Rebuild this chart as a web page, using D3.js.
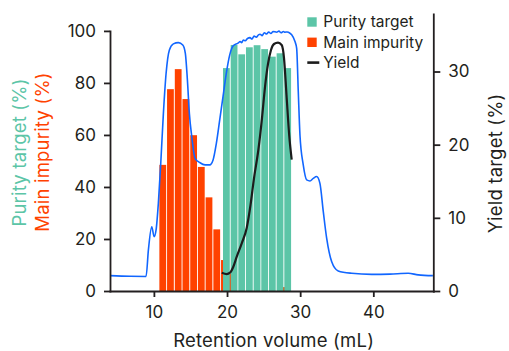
<!DOCTYPE html>
<html>
<head>
<meta charset="utf-8">
<script src="https://cdn.jsdelivr.net/npm/d3@7"></script>
<style>
  body { margin: 0; background: #fff; }
  svg text { font-family: Inter, 'Liberation Sans', sans-serif; fill: #231f20; }
  .axis path, .axis line { stroke: #231f20; stroke-width: 1.8; }
  .axis text { font-size: 17px; }
  .title { font-size: 18.5px; letter-spacing: 0.2px; }
  .legend text { font-size: 15.5px; }
</style>
</head>
<body>
<div id="chart"></div>
<script>
// Fraction start volumes (mL) and analysed content (%)
const fractionWidth = 1.05;
const impurityStart = [10.75, 11.8, 12.86, 13.91, 14.97, 16.02, 17.07, 18.13, 19.18, 20.24, 21.29, 22.34, 23.4, 24.45, 25.51, 26.56, 27.61];
const impurityPct = [48.5, 77.6, 85.3, 73.8, 59.9, 47.7, 36.0, 23.7, 11.9, 6.7, 0, 0, 0, 0, 0, 0, 1.5];
const purityStart = [19.45, 20.5, 21.54, 22.59, 23.64, 24.68, 25.73, 26.78, 27.83];
const purityPct = [85.7, 94.6, 91.0, 93.7, 94.5, 93.0, 90.1, 91.4, 85.7];

// Cumulative yield (right axis)
const yieldVol = [19.28, 19.96, 20.41, 20.86, 21.33, 22.01, 22.69, 23.21, 23.69, 24.28, 24.78, 25.19, 25.6, 26.01, 26.42, 26.97, 27.47, 27.79, 28.13, 28.51, 28.84];
const yieldPct = [2.5, 2.32, 2.5, 3.32, 4.69, 6.52, 8.61, 11.75, 15.44, 19.27, 23.64, 27.88, 31.02, 32.94, 33.76, 33.96, 33.62, 31.84, 26.79, 21.18, 17.97];

// Chromatogram trace, drawn against the left scale
const traceVol = [4.0, 6.75, 8.93, 9.25, 9.71, 10.03, 10.3, 10.61, 10.94, 11.3, 11.67, 12.12, 12.66, 13.35, 13.95, 14.3, 14.58, 14.85, 15.18, 15.63, 16.31, 16.99, 17.64, 18.09, 18.54, 19.0, 19.45, 19.9, 20.37, 20.82, 21.5, 21.8, 22.0, 22.23, 22.5, 22.8, 23.14, 23.4, 23.7, 24.0, 24.3, 24.51, 24.8, 25.1, 25.4, 25.7, 26.0, 26.3, 26.79, 27.1, 27.4, 27.7, 27.92, 28.2, 28.61, 28.84, 29.29, 29.52, 29.74, 29.97, 30.42, 30.89, 31.34, 31.79, 32.25, 32.7, 33.16, 33.62, 34.3, 35.2, 37.04, 39.77, 42.27, 44.77, 46.13, 48.14];
const traceSignal = [5.9, 5.65, 5.6, 15.8, 24.7, 20.9, 23.5, 33.7, 49.1, 68.3, 83.7, 92.7, 95.0, 95.5, 94.6, 91.4, 81.2, 68.3, 59.3, 51.0, 49.3, 48.5, 48.5, 50.4, 56.8, 65.8, 74.7, 83.7, 90.8, 94.2, 95.3, 95.9, 95.5, 96.5, 96.2, 97.1, 97.4, 96.9, 98.0, 97.6, 98.5, 98.7, 98.2, 99.3, 98.8, 99.6, 99.0, 99.8, 99.5, 99.9, 99.3, 99.8, 99.5, 99.6, 99.1, 98.5, 95.9, 93.3, 76.7, 60.0, 48.5, 42.7, 42.3, 43.3, 44.0, 41.4, 30.5, 20.3, 11.3, 7.7, 6.8, 6.4, 6.5, 6.8, 6.2, 5.9];

const xTicks = [10, 20, 30, 40];
const leftTicks = [0, 20, 40, 60, 80, 100];
const rightTicks = [0, 10, 20, 30];

const colors = { purity: '#5cc5a7', impurity: '#ff4200', trace: '#1166ff', yield: '#1c1c1c' };

const config = {
  containerWidth: 509,
  containerHeight: 351,
  margin: { top: 14, right: 75.7, bottom: 60, left: 110 }
};
const width = config.containerWidth - config.margin.left - config.margin.right;
const height = config.containerHeight - config.margin.top - config.margin.bottom;

const svg = d3.select('#chart').append('svg')
    .attr('width', config.containerWidth)
    .attr('height', config.containerHeight);

const chart = svg.append('g')
    .attr('transform', `translate(${config.margin.left},${config.margin.top})`);

// Scales
const x = d3.scaleLinear().domain([4, 48.2]).range([0, width]);
const yLeft = d3.scaleLinear().domain([0, 106.5]).range([height, 0]);
const yRight = d3.scaleLinear().domain([0, 37.86]).range([height, 0]);

// Bars: impurity first, purity on top
const impurity = impurityStart.map((v, i) => ({ x0: v, value: impurityPct[i] }));
const purity = purityStart.map((v, i) => ({ x0: v, value: purityPct[i] }));

chart.selectAll('.bar-impurity')
    .data(impurity)
  .join('rect')
    .attr('class', 'bar-impurity')
    .attr('x', d => x(d.x0))
    .attr('width', d => x(d.x0 + fractionWidth) - x(d.x0) - 0.9)
    .attr('y', d => yLeft(d.value))
    .attr('height', d => yLeft(0) - yLeft(d.value))
    .attr('fill', colors.impurity);

chart.selectAll('.bar-purity')
    .data(purity)
  .join('rect')
    .attr('class', 'bar-purity')
    .attr('x', d => x(d.x0))
    .attr('width', d => x(d.x0 + fractionWidth) - x(d.x0) - 0.9)
    .attr('y', d => yLeft(d.value))
    .attr('height', d => yLeft(0) - yLeft(d.value))
    .attr('fill', colors.purity);

// Chromatogram trace
const trace = d3.line()
    .x((d, i) => x(traceVol[i]))
    .y(d => yLeft(d))
    .curve(d3.curveMonotoneX);

chart.append('path')
    .attr('d', trace(traceSignal))
    .attr('fill', 'none')
    .attr('stroke', colors.trace)
    .attr('stroke-width', 1.6);

// Yield line
const yieldLine = d3.line()
    .x((d, i) => x(yieldVol[i]))
    .y(d => yRight(d))
    .curve(d3.curveMonotoneX);

chart.append('path')
    .attr('d', yieldLine(yieldPct))
    .attr('fill', 'none')
    .attr('stroke', colors.yield)
    .attr('stroke-width', 2.2);

// Axes
chart.append('g')
    .attr('class', 'axis')
    .attr('transform', `translate(0,${height})`)
    .call(d3.axisBottom(x).tickValues(xTicks).tickSize(6).tickPadding(9).tickSizeOuter(0));

const leftScale = yLeft.copy().domain([0, 100]).range([yLeft(0), yLeft(100)]);
chart.append('g')
    .attr('class', 'axis')
    .call(d3.axisLeft(leftScale).tickValues(leftTicks).tickSize(6).tickPadding(8).tickSizeOuter(0));

chart.append('g')
    .attr('class', 'axis')
    .attr('transform', `translate(${width},0)`)
    .call(d3.axisRight(yRight).tickValues(rightTicks).tickSize(7).tickPadding(8).tickSizeOuter(0));

chart.selectAll('.axis .domain').attr('stroke-linecap', 'square');

// Axis titles
svg.append('text')
    .attr('class', 'title')
    .attr('x', config.margin.left + width / 2 + 2)
    .attr('y', 346.5)
    .attr('text-anchor', 'middle')
    .text('Retention volume (mL)');

svg.append('text')
    .attr('class', 'title')
    .attr('transform', 'translate(25.5,152.5) rotate(-90)')
    .attr('text-anchor', 'middle')
    .style('fill', colors.purity)
    .text('Purity target (%)');

svg.append('text')
    .attr('class', 'title')
    .attr('transform', 'translate(48.5,152) rotate(-90)')
    .attr('text-anchor', 'middle')
    .style('fill', colors.impurity)
    .text('Main impurity (%)');

svg.append('text')
    .attr('class', 'title')
    .attr('transform', 'translate(502,163.3) rotate(-90)')
    .attr('text-anchor', 'middle')
    .text('Yield target (%)');

// Legend
const legendItems = [
  { label: 'Purity target', color: colors.purity, type: 'rect' },
  { label: 'Main impurity', color: colors.impurity, type: 'rect' },
  { label: 'Yield', color: colors.yield, type: 'line' }
];

const legend = svg.append('g')
    .attr('class', 'legend')
    .attr('transform', 'translate(307.3,22)');

const legendRow = legend.selectAll('.legend-row')
    .data(legendItems)
  .join('g')
    .attr('class', 'legend-row')
    .attr('transform', (d, i) => `translate(0,${i * 20.3})`);

legendRow.filter(d => d.type === 'rect').append('rect')
    .attr('y', -4.7)
    .attr('width', 9.4)
    .attr('height', 9.4)
    .attr('fill', d => d.color);

legendRow.filter(d => d.type === 'line').append('line')
    .attr('x1', 0)
    .attr('x2', 12)
    .attr('stroke', d => d.color)
    .attr('stroke-width', 2.6);

legendRow.append('text')
    .attr('x', 16)
    .attr('y', 5.2)
    .text(d => d.label);
</script>
</body>
</html>
